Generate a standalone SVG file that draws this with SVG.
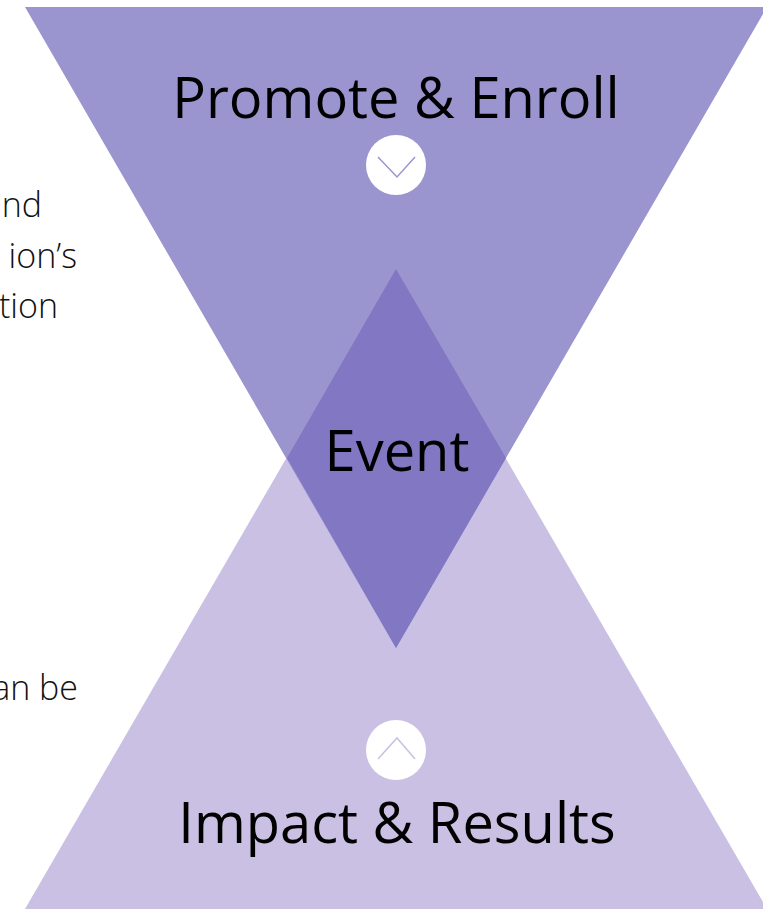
<svg xmlns="http://www.w3.org/2000/svg" width="763" height="909" viewBox="0 0 763 909">
<style>
.lbl{font-family:"Open Sans","Noto Sans","Liberation Sans",sans-serif;font-size:56px;fill:#000;text-anchor:middle}
.side{font-family:"Open Sans","Noto Sans","Liberation Sans",sans-serif;font-weight:300;font-size:34px;fill:#111;text-anchor:end}
.circ{fill:#fff}
</style>
<rect width="763" height="909" fill="#fff"/>
<g id="side-text">
<text class="side" x="42" y="217">nd</text>
<text class="side" x="77" y="268">ion’s</text>
<text class="side" x="58" y="318">tion</text>
<text class="side" x="78" y="700">an be</text>
</g>
<g id="impact">
<polygon points="25,909 767,909 396,269" fill="#C9C0E3"/>
</g>
<g id="promote">
<polygon points="25,7 767,7 396,648" fill="#9B95CF"/>
</g>
<g id="event">
<polygon points="396,269 506,458 396,648 287,458" fill="#8177C3"/>
<text class="lbl" x="397" y="471">Event</text>
</g>
<g id="promote-label">
<text class="lbl" x="396" y="118">Promote &amp; Enroll</text>
<circle class="circ" cx="396" cy="165" r="30"/>
<polyline points="378,157 397,177 415,157" fill="none" stroke="#9B95CF" stroke-width="1.5"/>
</g>
<g id="impact-label">
<circle class="circ" cx="396" cy="750" r="30"/>
<polyline points="378,759 397,738 415,759" fill="none" stroke="#C9C0E3" stroke-width="1.5"/>
<text class="lbl" x="397" y="843">Impact &amp; Results</text>
</g>
<g id="connectors"></g>
</svg>
